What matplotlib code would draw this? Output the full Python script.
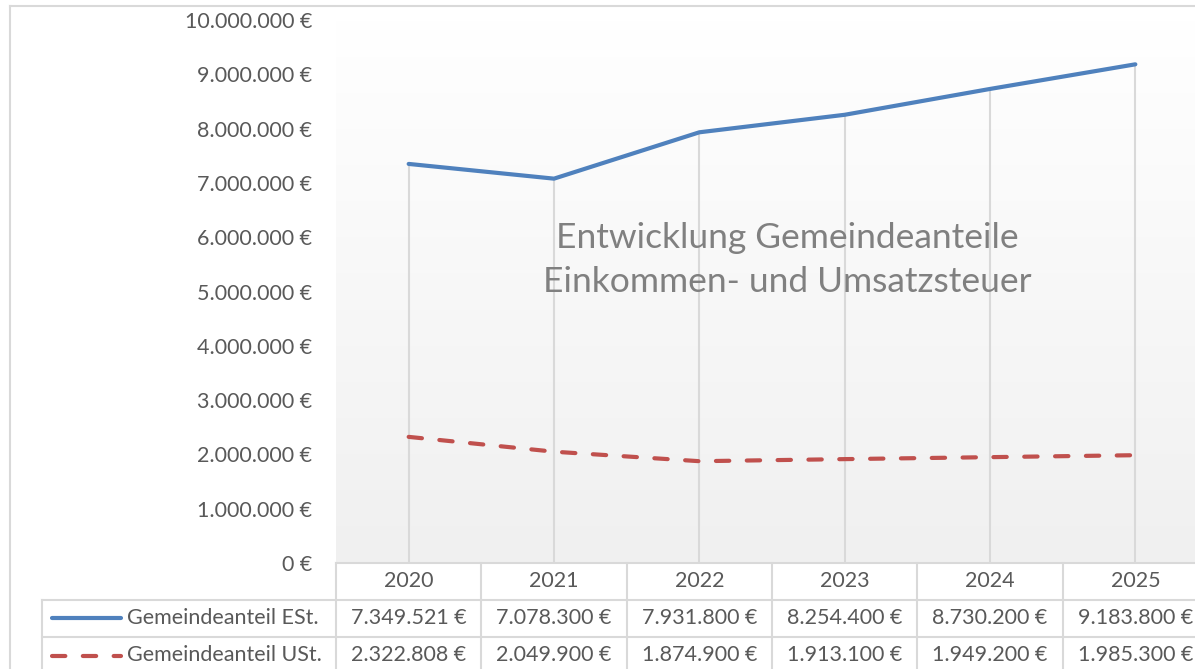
import numpy as np
import matplotlib.pyplot as plt
from matplotlib.transforms import blended_transform_factory

plt.rcParams['font.family'] = ['Lato', 'DejaVu Sans']

# data
years = ['2020', '2021', '2022', '2023', '2024', '2025']
est = [7349521, 7078300, 7931800, 8254400, 8730200, 9183800]
ust = [2322808, 2049900, 1874900, 1913100, 1949200, 1985300]
series_names = ['Gemeindeanteil ESt.', 'Gemeindeanteil USt.']
title_lines = ['Entwicklung Gemeindeanteile', 'Einkommen- und Umsatzsteuer']

TXT = '#595959'
GRID = '#d9d9d9'
BLUE = '#4f81bd'
RED = '#c0504d'
W, H = 1195, 669
FS = 15.5


def euro(v):
    return f'{int(round(v)):,}'.replace(',', '.') + ' €'


def fy(py):
    # pixel row from top -> figure fraction
    return 1 - py / H


def fx(px):
    return px / W


fig = plt.figure(figsize=(W / 100, H / 100), dpi=100)
ax = fig.add_axes([fx(336), fy(563), 872 / W, 543 / H])

x = np.arange(len(years))
ax.set_xlim(-0.5, len(years) - 0.5)
ax.set_ylim(0, 10_000_000)

# gradient plot area background
grad = np.linspace(0, 1, 256).reshape(-1, 1)
ax.imshow(grad, extent=(-0.5, len(years) - 0.5, 0, 10_000_000), aspect='auto',
          cmap=plt.matplotlib.colors.LinearSegmentedColormap.from_list('g', ['#f0f0f0', '#ffffff']),
          origin='lower', zorder=0)

# drop lines
tops = np.maximum(est, ust)
ax.vlines(x, 0, tops, color=GRID, lw=1.5, zorder=1)

ax.plot(x, est, color=BLUE, lw=3, solid_capstyle='round', zorder=3)
ax.plot(x, ust, color=RED, lw=3, dashes=(3.2, 4.2), dash_capstyle='round', zorder=3)

ax.set_yticks(np.arange(0, 10_000_001, 1_000_000))
ax.set_yticklabels([euro(v) for v in ax.get_yticks()])
ax.tick_params(axis='y', length=0, pad=17, labelsize=FS, labelcolor=TXT)
ax.set_xticks([])
for s in ax.spines.values():
    s.set_visible(False)

# title inside plot area
fig.text(fx(787), fy(260), '\n'.join(title_lines), ha='center', va='center',
         fontsize=25.5, color='#808080', linespacing=1.45)

# chart border
fig.add_artist(plt.Line2D([fx(10), fx(10)], [fy(6), 0], transform=fig.transFigure, color=GRID, lw=1.5))
fig.add_artist(plt.Line2D([fx(10), 1], [fy(6), fy(6)], transform=fig.transFigure, color=GRID, lw=1.5))

# data table
bt = blended_transform_factory(ax.transData, fig.transFigure)
row_y = [563, 600, 637, 674]
right = len(years) - 0.5
lkw = dict(color=GRID, lw=1.5, clip_on=False)
ax.plot([-0.5, right], [fy(563)] * 2, transform=bt, **lkw)
for ry in row_y[1:3]:
    fig.add_artist(plt.Line2D([fx(42), 1], [fy(ry)] * 2, transform=fig.transFigure, color=GRID, lw=1.5))
for b in np.arange(-0.5, len(years) + 0.5, 1):
    ax.plot([b, b], [fy(563), 0], transform=bt, **lkw)
fig.add_artist(plt.Line2D([fx(42), fx(42)], [fy(600), 0], transform=fig.transFigure, color=GRID, lw=1.5))

for i, yr in enumerate(years):
    ax.text(i, fy(581), yr, transform=bt, ha='center', va='center', fontsize=FS, color=TXT)
    ax.text(i, fy(618), euro(est[i]), transform=bt, ha='center', va='center', fontsize=FS, color=TXT)
    ax.text(i, fy(655), euro(ust[i]), transform=bt, ha='center', va='center', fontsize=FS, color=TXT)

# legend keys
fig.add_artist(plt.Line2D([fx(52), fx(121)], [fy(618)] * 2, transform=fig.transFigure,
                          color=BLUE, lw=3, solid_capstyle='round'))
fig.add_artist(plt.Line2D([fx(52), fx(121)], [fy(656)] * 2, transform=fig.transFigure,
                          color=RED, lw=3, dashes=(3.2, 4.2), dash_capstyle='round'))
fig.text(fx(127), fy(618), series_names[0], ha='left', va='center', fontsize=FS, color=TXT)
fig.text(fx(127), fy(655), series_names[1], ha='left', va='center', fontsize=FS, color=TXT)

fig.savefig('out.png', dpi=100, facecolor='white')
